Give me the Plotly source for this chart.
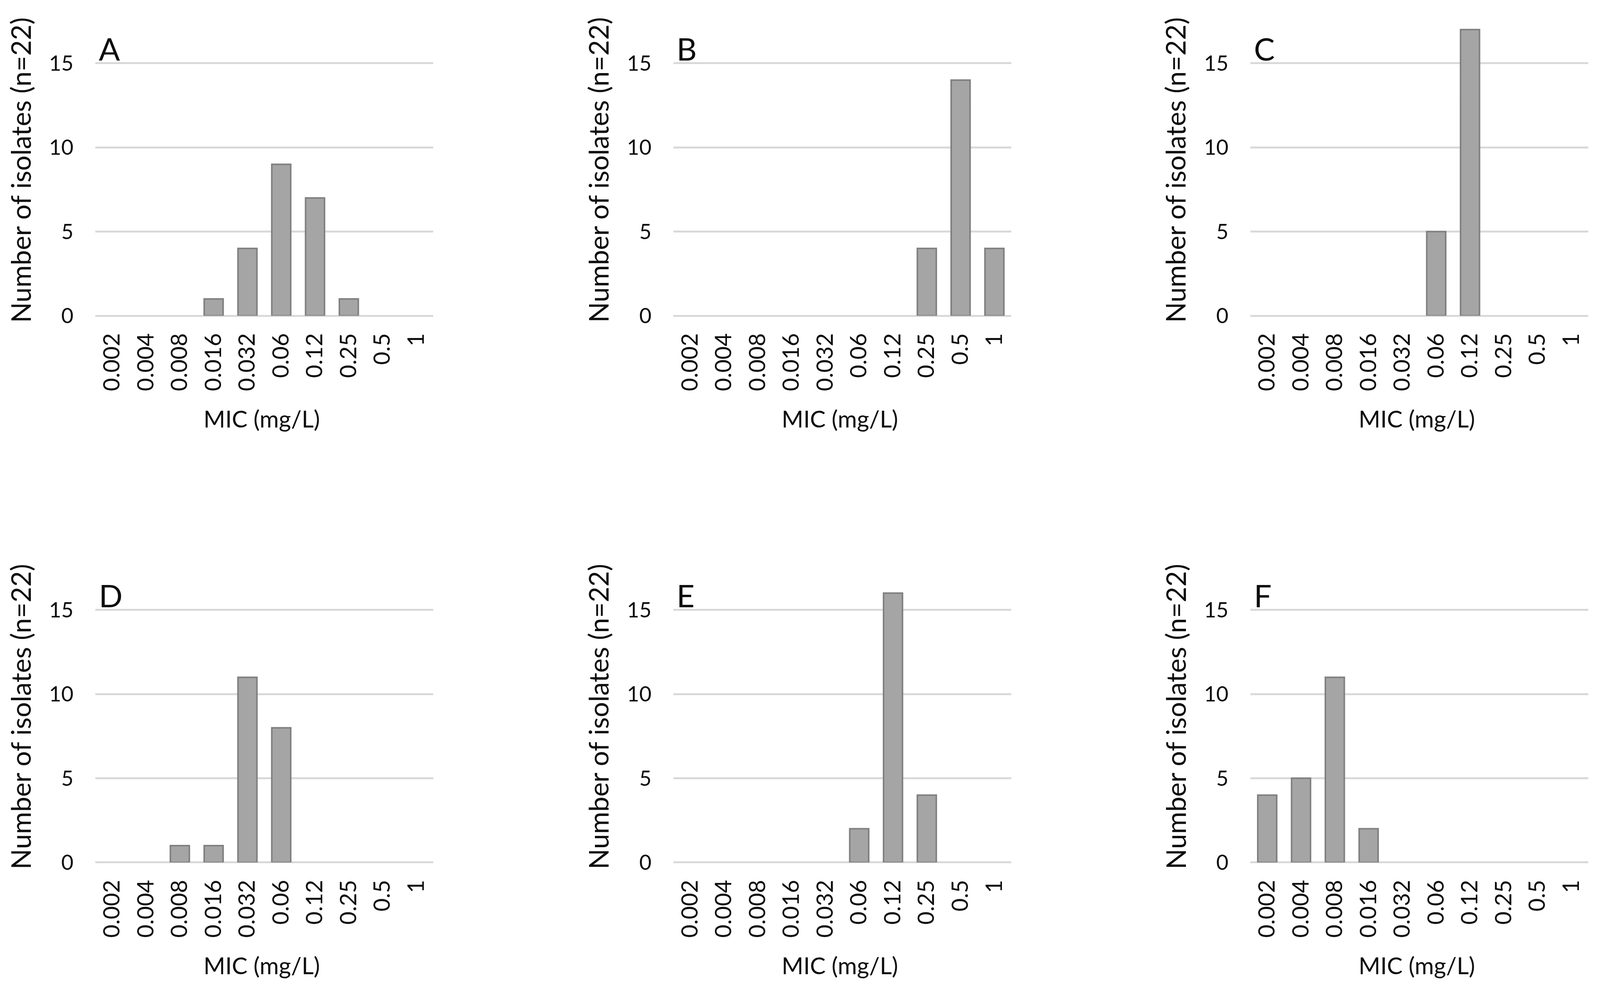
import plotly.graph_objects as go

# ---------------- data ----------------
mic_labels = ["0.002", "0.004", "0.008", "0.016", "0.032", "0.06", "0.12", "0.25", "0.5", "1"]
panel_names = ["A", "B", "C", "D", "E", "F"]
counts_A = [0, 0, 0, 1, 4, 9, 7, 1, 0, 0]
counts_B = [0, 0, 0, 0, 0, 0, 0, 4, 14, 4]
counts_C = [0, 0, 0, 0, 0, 5, 17, 0, 0, 0]
counts_D = [0, 0, 1, 1, 11, 8, 0, 0, 0, 0]
counts_E = [0, 0, 0, 0, 0, 2, 16, 4, 0, 0]
counts_F = [4, 5, 11, 2, 0, 0, 0, 0, 0, 0]
y_ticks = [0, 5, 10, 15]
y_title = "Number of isolates (n=22)"
x_title = "MIC (mg/L)"

all_counts = [counts_A, counts_B, counts_C, counts_D, counts_E, counts_F]

# ---------------- geometry ----------------
# Positions are expressed in reference-image pixels (4933 x 2559) and mapped
# onto the browser viewport, which the figure fills (minus the 8px body margin).
REF_W, REF_H = 4933, 2559
VW, VH = 4111, 2520          # estimated CSS viewport of the photographing browser
BODY = 8
SX = VW / REF_W
SY = VH / REF_H


def fx(xr):
    return (xr * SX - BODY) / (VW - 2 * BODY)


def fy(yr):
    return 1 - (yr * SY - BODY) / (VH - 2 * BODY)


col_left = [294, 2076, 3855]
plot_w = 1042
row_zero = [818, 2234]     # reference y of value 0
unit = 43.6                # reference px per count
y_max = 18

FONT = "Lato"
TXT = "#0d0d0d"
GRID = "#D9D9D9"

fig = go.Figure()
annotations = []
layout_axes = {}

for i, (name, counts) in enumerate(zip(panel_names, all_counts)):
    r, c = divmod(i, 3)
    idx = i + 1
    xa = "x" if idx == 1 else f"x{idx}"
    ya = "y" if idx == 1 else f"y{idx}"
    xkey = "xaxis" if idx == 1 else f"xaxis{idx}"
    ykey = "yaxis" if idx == 1 else f"yaxis{idx}"

    left = col_left[c]
    right = left + plot_w
    bottom = row_zero[r]
    top = bottom - y_max * unit

    fig.add_trace(go.Bar(
        x=mic_labels, y=counts, xaxis=xa, yaxis=ya,
        marker=dict(color="#A5A5A5",
                    line=dict(color="#808080",
                              width=[4 if v > 0 else 0 for v in counts])),
        showlegend=False, hoverinfo="x+y",
    ))

    layout_axes[xkey] = dict(
        domain=[fx(left), fx(right)],
        anchor=ya,
        type="category",
        range=[-0.5, len(mic_labels) - 0.5],
        showgrid=False, zeroline=False, showline=False,
        ticks="", tickangle=-90,
        ticklabelstandoff=int(round(32 * SY)),
        tickfont=dict(family=FONT, size=58, color=TXT),
        fixedrange=True,
    )
    layout_axes[ykey] = dict(
        domain=[fy(bottom), fy(top)],
        anchor=xa,
        range=[0, y_max],
        tickvals=y_ticks,
        showgrid=True, gridcolor=GRID, gridwidth=5,
        zeroline=True, zerolinecolor=GRID, zerolinewidth=5,
        showline=False, ticks="",
        ticklabelstandoff=int(round(66 * SX)),
        tickfont=dict(family=FONT, size=54, color=TXT),
        fixedrange=True,
    )

    # panel letter
    annotations.append(dict(
        text=name, xref="paper", yref="paper",
        x=fx(left + 8), y=fy(bottom - 692),
        xanchor="left", yanchor="middle", showarrow=False,
        font=dict(family=FONT, size=80, color=TXT),
    ))
    # y-axis title
    annotations.append(dict(
        text=y_title, xref="paper", yref="paper",
        x=fx(left - 231), y=fy(bottom - 378),
        xanchor="center", yanchor="middle", textangle=-90, showarrow=False,
        font=dict(family=FONT, size=69, color=TXT),
    ))
    # x-axis title
    annotations.append(dict(
        text=x_title, xref="paper", yref="paper",
        x=fx(left + plot_w / 2 - 8), y=fy(bottom + 266),
        xanchor="center", yanchor="middle", showarrow=False,
        font=dict(family=FONT, size=60, color=TXT),
    ))

fig.update_layout(
    autosize=True,
    margin=dict(l=0, r=0, t=0, b=0),
    paper_bgcolor="white", plot_bgcolor="white",
    bargap=0.44,
    showlegend=False,
    annotations=annotations,
    font=dict(family=FONT, color=TXT),
    **layout_axes,
)

fig.write_html("out.html",
               default_width="calc(100vw - 16px)",
               default_height="calc(100vh - 16px)")
